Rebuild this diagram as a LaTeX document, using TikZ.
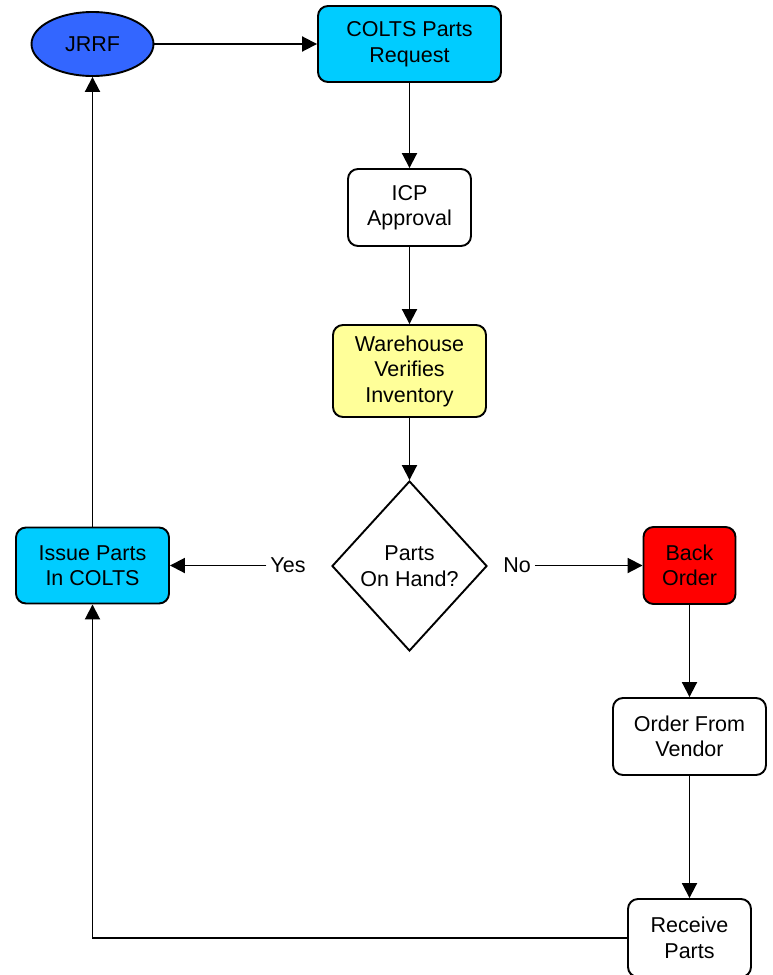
\documentclass[tikz,border=0pt]{standalone}
\usepackage{fontspec}
\setmainfont{Liberation Sans}
\usetikzlibrary{arrows.meta,shapes.geometric}
\definecolor{jrrfBlue}{HTML}{3366FF}
\definecolor{coltsCyan}{HTML}{00CCFF}
\definecolor{whYellow}{HTML}{FFFF99}
\definecolor{boRed}{HTML}{FF0000}
\newcommand{\lineW}{1.9pt}
\newcommand{\boxRound}{10pt}
\newcommand{\textSize}{\fontsize{21.5}{25.5}\selectfont}

\begin{document}
\begin{tikzpicture}[x=1pt, y=-1pt,
    every node/.style={font=\textSize, align=center},
    flowbox/.style={draw, line width=\lineW, rounded corners=\boxRound, inner sep=0pt},
    flowarrow/.style={line width=\lineW, -{Triangle[length=15pt,width=15pt]}},
    answer/.style={inner sep=4pt}]
\useasboundingbox (0,0) rectangle (773,975);
% start and request
\node (jrrf) [ellipse, draw, line width=\lineW, fill=jrrfBlue, minimum width=122pt, minimum height=64pt, inner sep=0pt] at (92.5,44) {JRRF};
\node (request) [flowbox, fill=coltsCyan, minimum width=183pt, minimum height=76pt] at (409.5,44) {COLTS Parts\\Request};
\node (icp) [flowbox, fill=white, minimum width=123pt, minimum height=77pt] at (409.5,207.5) {ICP\\Approval};
\node (verify) [flowbox, fill=whYellow, minimum width=153pt, minimum height=92pt] at (409.5,371) {Warehouse\\Verifies\\Inventory};
\node (onhand) [diamond, draw, line width=\lineW, fill=white, minimum width=155pt, minimum height=170pt, inner sep=0pt] at (409.5,566) {Parts\\On Hand?};
% yes / no branches
\node (yes) [answer] at (288,565.5) {Yes};
\node (no) [answer] at (517,565.5) {No};
\node (issue) [flowbox, fill=coltsCyan, minimum width=153pt, minimum height=76pt] at (92.5,565.5) {Issue Parts\\In COLTS};
\node (backorder) [flowbox, fill=boRed, minimum width=92pt, minimum height=77pt] at (689.5,565.5) {Back\\Order};
\node (vendor) [flowbox, fill=white, minimum width=153pt, minimum height=77pt] at (689.5,736.5) {Order From\\Vendor};
\node (receive) [flowbox, fill=white, minimum width=123pt, minimum height=78pt] at (689.5,938) {Receive\\Parts};

\draw[flowarrow] (jrrf) -- (request);
\draw[flowarrow] (request) -- (icp);
\draw[flowarrow] (icp) -- (verify);
\draw[flowarrow] (verify) -- (onhand);
\draw[flowarrow] (yes) -- (issue);
\draw[flowarrow] (no) -- (backorder);
\draw[flowarrow] (backorder) -- (vendor);
\draw[flowarrow] (vendor) -- (receive);
\draw[flowarrow] (receive.west) -| (issue.south);
\draw[flowarrow] (issue) -- (jrrf);
\end{tikzpicture}
\end{document}
